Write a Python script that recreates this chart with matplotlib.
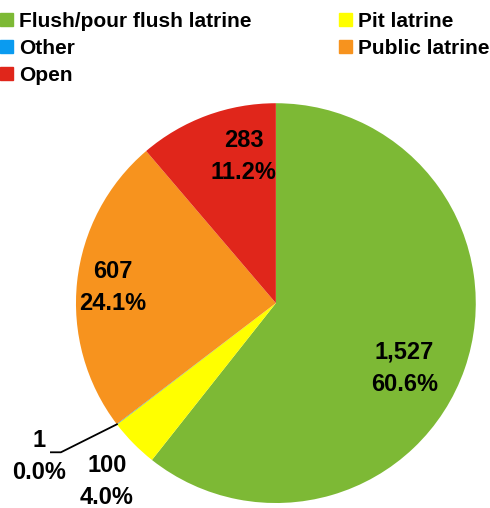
import matplotlib.pyplot as plt
import matplotlib.patches as mpatches
import numpy as np

plt.rcParams['font.family'] = ['Liberation Sans', 'DejaVu Sans']
plt.rcParams['font.weight'] = 'bold'

# Data
categories = ["Flush/pour flush latrine", "Pit latrine", "Other", "Public latrine", "Open"]
counts = [1527, 100, 1, 607, 283]
colors = ["#7DB935", "#FFFF00", "#0A9BF0", "#F7931E", "#E0261B"]

# label placement per wedge: (fraction of radius, angle shift in deg)
label_dist = [0.72, 1.23, None, 0.82, 0.75]
label_shift = [-7.8, 2.0, 0, 0.6, -7.8]

fig = plt.figure(figsize=(4.9, 5.08), dpi=100)
ax = fig.add_axes([0.155, 0.0098, 0.816, 0.787])

wedges, _ = ax.pie(counts, colors=colors, startangle=90, counterclock=False,
                   radius=1.0, wedgeprops=dict(linewidth=0))
ax.set_xlim(-1, 1)
ax.set_ylim(-1, 1)
ax.set_aspect('equal')
ax.axis('off')

total = sum(counts)
lab_kw = dict(ha='center', va='center', fontsize=17, fontweight='bold',
              linespacing=1.5, clip_on=False)
for i, w in enumerate(wedges):
    mid = np.deg2rad((w.theta1 + w.theta2) / 2 + label_shift[i])
    pct = counts[i] / total * 100
    txt = f"{counts[i]:,}\n{pct:.1f}%"
    if label_dist[i] is not None:
        d = label_dist[i]
        ax.text(d * np.cos(mid), d * np.sin(mid), txt, **lab_kw)
    else:
        # leader line for the tiny slice
        p0 = np.array([np.cos(mid), np.sin(mid)])
        p1 = p0 + np.array([-0.28, -0.14])
        p2 = p1 + np.array([-0.05, 0])
        ax.plot([p0[0], p1[0], p2[0]], [p0[1], p1[1], p2[1]], color='black',
                lw=1.3, clip_on=False)
        ax.text(p2[0] - 0.06, p2[1] - 0.02, txt, **lab_kw)

handles = [mpatches.Patch(color=c, label=l) for c, l in zip(colors, categories)]
h1 = [handles[0], handles[2], handles[4]]
h2 = [handles[1], handles[3]]
leg_kw = dict(frameon=False, handlelength=0.6, handleheight=0.6, handletextpad=0.3,
              labelspacing=0.38, borderaxespad=0, borderpad=0,
              prop=dict(size=15, weight='bold'))
l1 = fig.legend(handles=h1, loc='upper left', bbox_to_anchor=(0.0, 0.976), **leg_kw)
l2 = fig.legend(handles=h2, loc='upper left', bbox_to_anchor=(0.692, 0.976), **leg_kw)

fig.savefig("out.png", dpi=100)
